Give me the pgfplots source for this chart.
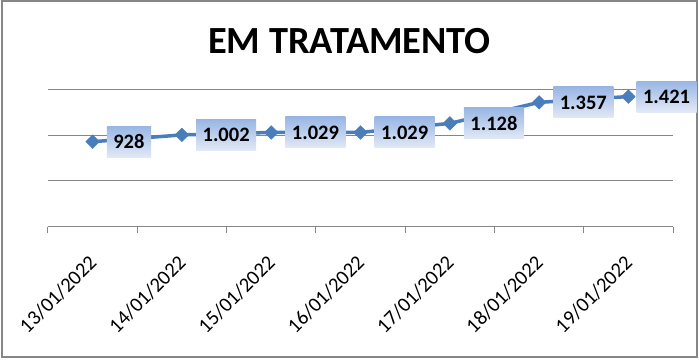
\documentclass[border=0pt]{standalone}
\usepackage{pgfplots}
\pgfplotsset{compat=1.18}
\usepackage{fontspec}
\setmainfont{Carlito}
\definecolor{serblue}{RGB}{74,126,187}
\definecolor{gridgray}{RGB}{134,134,134}
\definecolor{labtop}{RGB}{152,182,228}
\definecolor{labbot}{RGB}{226,233,246}
\begin{document}
\begin{tikzpicture}
\useasboundingbox (0pt,0pt) rectangle (699pt,-361pt);
\draw[gridgray, line width=2pt] (1.5pt,-1.5pt) rectangle (697pt,-357pt);
\node[anchor=base, inner sep=0pt, font=\bfseries\fontsize{38.4}{46}\selectfont] at (349.5pt,-54pt) {EM TRATAMENTO};
\begin{axis}[
  at={(92.64pt,-226.7pt)}, anchor=origin, scale only axis,
  width=625pt, height=137.4pt,
  xmin=-0.5, xmax=6.5, ymin=0, ymax=1500,
  axis x line*=bottom, axis y line*=left,
  y axis line style={draw=none},
  x axis line style={gridgray, line width=1pt},
  xtick={0,1,2,3,4,5,6},
  xticklabels={13/01/2022,14/01/2022,15/01/2022,16/01/2022,17/01/2022,18/01/2022,19/01/2022},
  minor xtick={-0.5,0.5,1.5,2.5,3.5,4.5,5.5,6.5},
  ytick={0,500,1000,1500}, yticklabels={},
  ymajorgrids, grid style={gridgray, line width=1pt},
  major tick length=0pt, minor tick length=6pt, tick align=outside,
  minor tick style={gridgray, line width=1pt},
  xticklabel style={font=\fontsize{20.5}{24}\selectfont, xshift=-5pt, yshift=-27pt, rotate=45, anchor=north east, inner sep=0pt},
  clip=false,
  /pgf/number format/assume math mode=true,
]
\addplot[serblue, line width=3.5pt, mark=square*, mark size=4.85pt,
  mark options={rotate=45, solid, line width=0.4pt, fill=serblue}]
  coordinates {(0,928) (1,1002) (2,1029) (3,1029) (4,1128) (5,1357) (6,1421)};
\addplot[draw=none,
  nodes near coords={\pgfmathprintnumber[1000 sep={.}]{\pgfplotspointmeta}},
  nodes near coords style={anchor=west, xshift=14pt, text=black,
    font=\bfseries\fontsize{20.5}{24}\selectfont,
    top color=labtop, bottom color=labbot, draw=none,
    inner xsep=6.5pt, inner ysep=0pt, minimum height=31pt}]
  coordinates {(0,928) (1,1002) (2,1029) (3,1029) (4,1128) (5,1357)};
\addplot[draw=none,
  nodes near coords={\pgfmathprintnumber[1000 sep={.}]{\pgfplotspointmeta}},
  nodes near coords style={anchor=west, xshift=8pt, text=black,
    font=\bfseries\fontsize{20.5}{24}\selectfont,
    top color=labtop, bottom color=labbot, draw=none,
    inner xsep=6.5pt, inner ysep=0pt, minimum height=31pt}]
  coordinates {(6,1421)};
\end{axis}
\end{tikzpicture}
\end{document}
